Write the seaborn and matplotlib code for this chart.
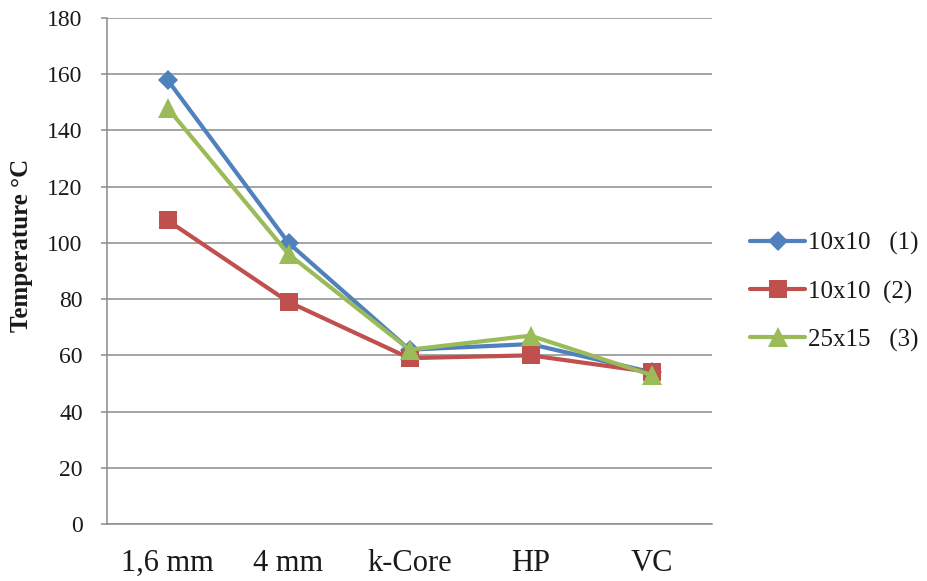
import matplotlib
matplotlib.use("Agg")
import matplotlib.pyplot as plt
import seaborn as sns
import pandas as pd

# Measurement points along the x axis
categories = ["1,6 mm", "4 mm", "k-Core", "HP", "VC"]

# Temperatures (°C) for each configuration
temp_10x10_1 = [158, 100, 62, 64, 54]
temp_10x10_2 = [108, 79, 59, 60, 54]
temp_25x15_3 = [148, 96, 62, 67, 53]

series_labels = ["10x10   (1)", "10x10  (2)", "25x15   (3)"]
y_ticks = [0, 20, 40, 60, 80, 100, 120, 140, 160, 180]

sns.set_theme(style="white")
plt.rcParams["font.family"] = ["Liberation Serif", "DejaVu Serif"]

fig = plt.figure(figsize=(9.27, 5.81), dpi=100)
ax = fig.add_axes([107 / 927, 57 / 581, 605 / 927, 506 / 581])

grid_color = "#8c8c8c"
styles = [
    dict(color="#4F81BD", marker="D", markersize=10.5),
    dict(color="#C0504D", marker="s", markersize=13.5),
    dict(color="#9BBB59", marker="^", markersize=14),
]

for values, label, st in zip([temp_10x10_1, temp_10x10_2, temp_25x15_3], series_labels, styles):
    df = pd.DataFrame({"pos": categories, "temp": values})
    sns.lineplot(
        data=df, x="pos", y="temp", ax=ax, sort=False, label=label,
        color=st["color"], marker=st["marker"], markersize=st["markersize"],
        markeredgewidth=0, linewidth=3, zorder=3,
    )

ax.set_xlim(-0.5, len(categories) - 0.5)
ax.set_ylim(0, 180)
ax.set_yticks(y_ticks)
ax.yaxis.grid(True, color=grid_color, linewidth=1.1)
ax.xaxis.grid(False)
ax.set_axisbelow(True)

for side in ["top", "right"]:
    ax.spines[side].set_visible(False)
for side in ["left", "bottom"]:
    ax.spines[side].set_color(grid_color)
    ax.spines[side].set_linewidth(1.1)

ax.tick_params(axis="y", which="major", left=True, length=4.5, width=1.1,
               color=grid_color, pad=13, labelsize=17, labelcolor="#1a1a1a")
ax.tick_params(axis="x", which="major", bottom=False, pad=12,
               labelsize=22, labelcolor="#1a1a1a")

ax.set_xlabel("")
ax.set_ylabel("Temperature °C", fontsize=18, fontweight="bold", color="#1a1a1a")
ax.yaxis.set_label_coords(-0.123, 0.55)

handles, labels = ax.get_legend_handles_labels()
ax.get_legend().remove()
fig.legend(handles, labels, loc="center left", bbox_to_anchor=(750 / 927, 1 - 292 / 581),
           frameon=False, fontsize=18, handlelength=2.2, handletextpad=0.1,
           labelspacing=1.0, borderpad=0, borderaxespad=0, labelcolor="#1a1a1a")

fig.savefig("out.png", dpi=100)
